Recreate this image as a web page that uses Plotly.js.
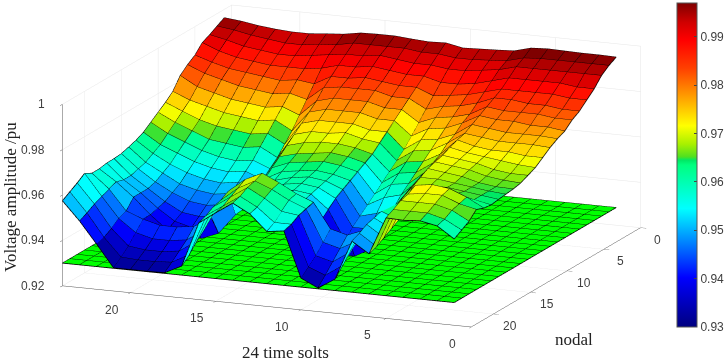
<!DOCTYPE html>
<html><head><meta charset="utf-8">
<script src="https://cdn.plot.ly/plotly-3.0.0.min.js"></script>
<style>html,body{margin:0;padding:0;background:#fff}#c{width:726px;height:362px}</style>
</head><body><div id="c"></div>
<script>
const timeSlots=[1,2,3,4,5,6,7,8,9,10,11,12,13,14,15,16,17,18,19,20,21,22,23,24];
const nodes=[1,2,3,4,5,6,7,8,9,10,11,12,13,14,15,16,17,18,19,20,21,22,23];
const planeLevel=0.93;
// one list per time slot, values for node 1..23
const voltage=[
[.9963,.9945,.992,.988,.985,.982,.980,.977,.9755,.9735,.971,.9685,.967,.9655,.9648,.9644,.964,.9635,.964,.9653,.962,.960,.958],
[.9965,.9945,.992,.988,.985,.982,.980,.978,.976,.974,.971,.969,.967,.966,.965,.965,.965,.965,.968,.967,.966,.964,.963],
[.9965,.9945,.992,.989,.986,.983,.981,.978,.976,.974,.972,.970,.968,.967,.966,.966,.966,.967,.971,.970,.968,.966,.9645],
[.9967,.9945,.992,.989,.986,.983,.981,.979,.976,.974,.972,.971,.970,.969,.968,.967,.967,.968,.972,.970,.968,.966,.964],
[.9969,.9945,.992,.989,.986,.984,.981,.979,.977,.975,.973,.972,.971,.970,.969,.968,.967,.968,.971,.969,.968,.966,.9643],
[.9965,.994,.992,.989,.986,.984,.982,.980,.978,.976,.975,.9736,.972,.971,.970,.968,.966,.962,.955,.953,.951,.949,.9477],
[.9945,.992,.990,.987,.984,.981,.978,.976,.973,.971,.968,.966,.964,.962,.961,.959,.957,.955,.958,.957,.956,.954,.9525],
[.9941,.9915,.989,.985,.982,.979,.976,.973,.970,.967,.964,.961,.958,.955,.951,.947,.943,.939,.949,.946,.943,.939,.935],
[.9938,.991,.988,.984,.981,.978,.975,.972,.969,.966,.963,.960,.957,.953,.948,.943,.939,.935,.946,.942,.938,.934,.9304],
[.9935,.991,.988,.984,.980,.976,.972,.968,.964,.961,.958,.955,.952,.949,.946,.943,.939,.935,.948,.944,.940,.937,.934],
[.995,.992,.989,.986,.983,.980,.977,.974,.971,.968,.965,.963,.961,.959,.957,.955,.952,.949,.959,.958,.957,.955,.954],
[.9947,.992,.989,.986,.983,.980,.977,.974,.971,.969,.967,.965,.963,.961,.960,.959,.958,.957,.962,.961,.958,.955,.953],
[.9952,.993,.990,.987,.984,.982,.979,.976,.973,.971,.968,.966,.964,.962,.961,.960,.959,.959,.966,.965,.963,.961,.960],
[.9958,.993,.991,.988,.985,.982,.979,.976,.973,.970,.968,.965,.963,.961,.960,.959,.958,.958,.9695,.968,.967,.965,.964],
[.9958,.993,.990,.987,.984,.982,.979,.976,.973,.970,.967,.964,.962,.960,.958,.956,.955,.954,.966,.964,.962,.960,.959],
[.9956,.993,.990,.987,.984,.981,.977,.974,.971,.968,.965,.962,.959,.956,.953,.951,.949,.948,.960,.958,.957,.955,.9537],
[.9943,.9915,.989,.985,.980,.975,.970,.965,.961,.957,.954,.951,.949,.947,.945,.943,.941,.939,.948,.944,.941,.937,.934],
[.9937,.991,.988,.984,.981,.977,.973,.969,.965,.961,.957,.954,.951,.948,.945,.942,.939,.936,.943,.939,.936,.933,.9303],
[.993,.990,.987,.984,.980,.976,.972,.968,.964,.960,.956,.953,.950,.947,.944,.941,.938,.936,.942,.938,.935,.9325,.9302],
[.993,.990,.987,.984,.981,.977,.973,.969,.965,.961,.957,.954,.951,.948,.945,.942,.940,.938,.942,.938,.935,.9325,.9302],
[.9935,.991,.988,.985,.982,.978,.974,.970,.966,.962,.959,.956,.953,.950,.948,.946,.945,.944,.944,.940,.936,.933,.9302],
[.9943,.992,.989,.986,.983,.980,.976,.972,.968,.965,.962,.959,.956,.954,.952,.951,.951,.951,.9469,.9455,.943,.941,.940],
[.9955,.9935,.991,.988,.985,.982,.978,.974,.971,.968,.965,.962,.960,.958,.957,.956,.956,.957,.9558,.9545,.953,.951,.9494],
[.9963,.9945,.9926,.991,.9874,.9851,.9822,.9771,.9742,.9717,.9692,.9667,.9651,.964,.963,.9627,.9626,.962,.962,.9638,.9615,.9595,.9575]
];
const xTicks=[0,5,10,15,20];
const yTicks=[0,5,10,15,20];
const zTicks=[0.92,0.94,0.96,0.98,1];
const zTickText=['0.92','0.94','0.96','0.98','1'];
const barTicks=[0.93,0.94,0.95,0.96,0.97,0.98,0.99];
const barTickText=['0.93','0.94','0.95','0.96','0.97','0.98','0.99'];
const cMin=0.93,cMax=0.997;
const stops=[[.93,'#00007f'],[.9402,'#0000ff'],[.948,'#008cff'],[.9545,'#00ffff'],[.9635,'#00ff7f'],[.9645,'#00e864'],[.9652,'#50e020'],[.9678,'#a8f000'],[.9716,'#ffff00'],[.9775,'#ffa000'],[.9835,'#ff4000'],[.9893,'#ff0000'],[.993,'#d00000'],[.997,'#7f0000']];
const colorscale=stops.map(s=>[(s[0]-cMin)/(cMax-cMin),s[1]]);

function meshFrom(zAt){
  const X=[],Y=[],Z=[],I=[],J=[],K=[],C=[];
  const nx=timeSlots.length,ny=nodes.length,id=(a,b)=>a*ny+b;
  for(let a=0;a<nx;a++)for(let b=0;b<ny;b++){X.push(timeSlots[a]);Y.push(nodes[b]);Z.push(zAt(a,b));}
  for(let a=0;a<nx-1;a++)for(let b=0;b<ny-1;b++){
    I.push(id(a,b),id(a,b));J.push(id(a+1,b),id(a+1,b+1));K.push(id(a+1,b+1),id(a,b+1));
    C.push(zAt(a,b),zAt(a,b));
  }
  return {X,Y,Z,I,J,K,C};
}
function gridFrom(zAt){
  const X=[],Y=[],Z=[];
  for(let a=0;a<timeSlots.length;a++){for(let b=0;b<nodes.length;b++){X.push(timeSlots[a]);Y.push(nodes[b]);Z.push(zAt(a,b));}X.push(null);Y.push(null);Z.push(null);}
  for(let b=0;b<nodes.length;b++){for(let a=0;a<timeSlots.length;a++){X.push(timeSlots[a]);Y.push(nodes[b]);Z.push(zAt(a,b));}X.push(null);Y.push(null);Z.push(null);}
  return {x:X,y:Y,z:Z,type:'scatter3d',mode:'lines',line:{color:'#000000',width:1.6},hoverinfo:'skip',showlegend:false};
}
const flat={ambient:1,diffuse:0,specular:0,roughness:1,fresnel:0};
const surf=(a,b)=>voltage[a][b], lvl=()=>planeLevel;
const ms=meshFrom(surf), mp=meshFrom(lvl);
const traces=[
 {type:'mesh3d',x:mp.X,y:mp.Y,z:mp.Z,i:mp.I,j:mp.J,k:mp.K,color:'#00ff00',flatshading:true,lighting:flat,hoverinfo:'skip',showscale:false},
 gridFrom(lvl),
 {type:'mesh3d',x:ms.X,y:ms.Y,z:ms.Z,i:ms.I,j:ms.J,k:ms.K,intensity:ms.C,intensitymode:'cell',colorscale:colorscale,cmin:cMin,cmax:cMax,flatshading:true,lighting:flat,hoverinfo:'skip',
  showscale:true,colorbar:{x:677/726,xanchor:'left',xref:'paper',thickness:20,thicknessmode:'pixels',len:324,lenmode:'pixels',y:1-165/362,yanchor:'middle',yref:'paper',tickvals:barTicks,ticktext:barTickText,ticks:'inside',ticklen:3,tickcolor:'#444',outlinecolor:'#555',outlinewidth:1,tickfont:{family:'Liberation Sans',size:12,color:'#404040'},xpad:0,ypad:0}},
 gridFrom(surf)
];
const axis=(range,vals,tl)=>({range:range,tickmode:'array',tickvals:vals,showticklabels:false,title:{text:''},showbackground:false,showgrid:true,gridcolor:'#e6e6e6',gridwidth:1,zeroline:false,showline:true,linecolor:'#555555',linewidth:1,ticks:'outside',ticklen:tl,tickcolor:'#555555',showspikes:false,autorange:false});
const serif={family:'Liberation Serif',size:17,color:'#222'};
const tickFont={family:'Liberation Sans',size:12,color:'#404040'};
const xEnd=0, yEnd=23, zEnd=0.92, xMax=24;
const sceneLabels=[
 ...xTicks.map(v=>({x:v,y:yEnd,z:zEnd,text:String(v),showarrow:false,xshift:-19,yshift:-17,font:tickFont,xanchor:'center',yanchor:'middle'})),
 ...yTicks.map(v=>({x:xEnd,y:v,z:zEnd,text:String(v),showarrow:false,xshift:17,yshift:-12,font:tickFont,xanchor:'center',yanchor:'middle'})),
 ...zTicks.map((v,i)=>({x:xMax,y:yEnd,z:v,text:zTickText[i],showarrow:false,xshift:-15,yshift:0,font:tickFont,xanchor:'right',yanchor:'middle'}))
];
const layout={width:726,height:362,margin:{l:0,r:0,t:0,b:0,autoexpand:false},paper_bgcolor:'#fff',showlegend:false,dragmode:false,hovermode:false,
 scene:{domain:{x:[0,0.9682],y:[0.0912,0.9917]},aspectmode:'manual',aspectratio:{x:2.715,y:2.715,z:1.148},
  camera:{eye:{x:-1.11,y:2.68,z:0.726},center:{x:0,y:0,z:0},up:{x:0,y:0,z:1},projection:{type:'orthographic'}},
  xaxis:axis([0,24],xTicks,6),yaxis:axis([0,23],yTicks,6),zaxis:axis([0.92,1],zTicks,10),annotations:sceneLabels},
 annotations:[
  {text:'Voltage amplitude /pu',xref:'paper',yref:'paper',x:10/726,y:1-197/362,textangle:-90,showarrow:false,font:serif,xanchor:'center',yanchor:'middle'},
  {text:'24 time solts',xref:'paper',yref:'paper',x:285/726,y:1-352/362,showarrow:false,font:serif,xanchor:'center',yanchor:'middle'},
  {text:'nodal',xref:'paper',yref:'paper',x:574/726,y:1-339/362,showarrow:false,font:serif,xanchor:'center',yanchor:'middle'}
 ]};
Plotly.newPlot('c',traces,layout,{displayModeBar:false});
</script></body></html>
